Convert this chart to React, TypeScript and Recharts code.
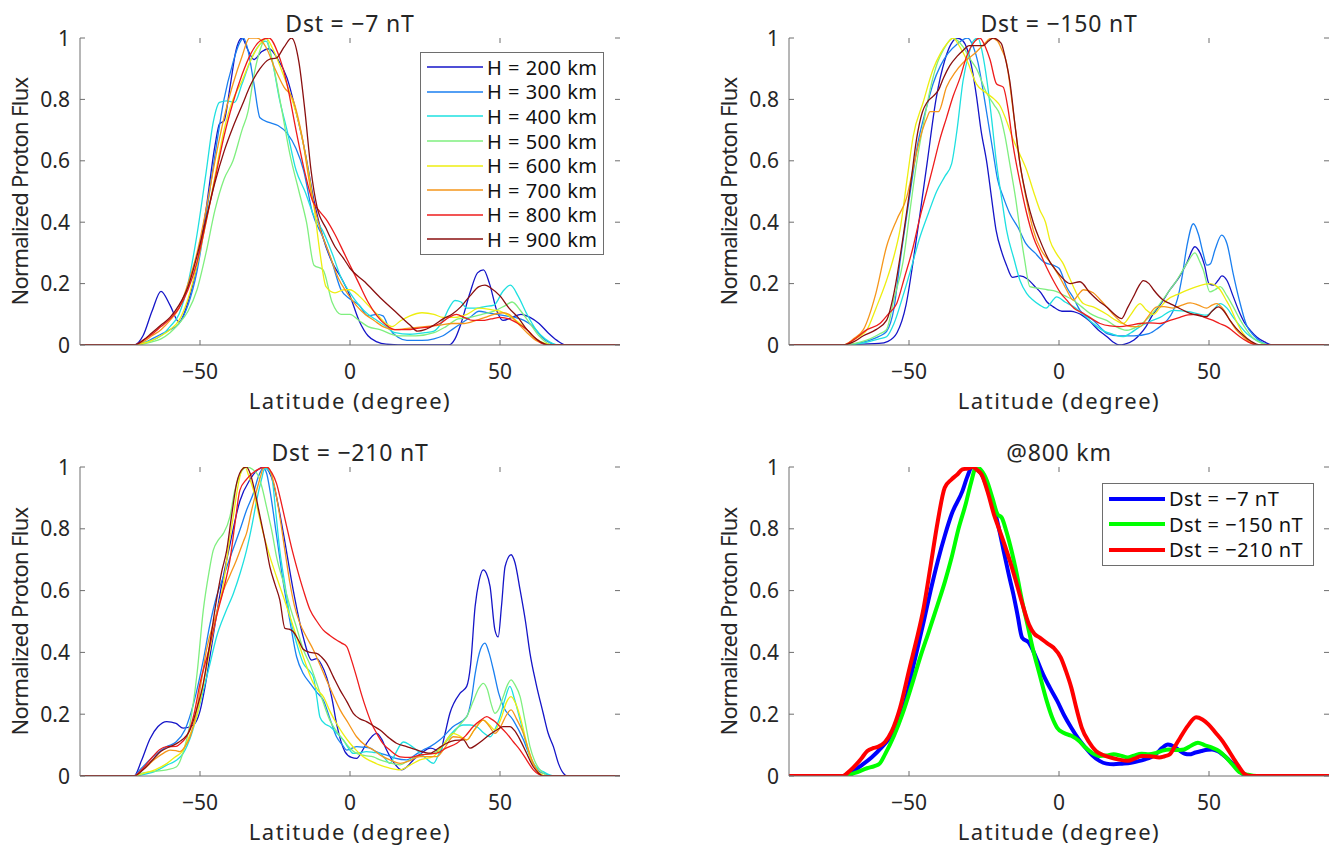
import React from "react";
import { LineChart, Line, XAxis, YAxis, Legend } from "recharts";

type Pt = [number, number];

const FONT = '"Noto Sans", "DejaVu Sans", sans-serif';
const INK = "#262626";
const BOX = "#6e6e6e";

const xTicks = [-50, 0, 50];
const yTicks = [0, 0.2, 0.4, 0.6, 0.8, 1];

const altitudeNames = ["H = 200 km", "H = 300 km", "H = 400 km", "H = 500 km", "H = 600 km", "H = 700 km", "H = 800 km", "H = 900 km"];
const altitudeColors = ["#1515c8", "#1a7ff0", "#1ee0e0", "#7fef7f", "#eeee10", "#f5961a", "#ee1c1c", "#8a0f0f"];
const stormNames = ["Dst = \u22127 nT", "Dst = \u2212150 nT", "Dst = \u2212210 nT"];
const stormColors = ["#0000ff", "#00ff00", "#ff0000"];
const panelTitles = ["Dst = \u22127 nT", "Dst = \u2212150 nT", "Dst = \u2212210 nT", "@800 km"];

// ---- Dst = -7 nT ----
const dst7_h200: Pt[] = [[-90,0],[-72,0],[-69,0.03],[-66,0.11],[-63,0.175],[-60,0.13],[-57,0.075],[-54,0.14],[-51,0.26],[-48,0.44],[-45,0.65],[-43.5,0.72],[-42,0.73],[-40,0.84],[-38,0.96],[-36,1.0],[-34,0.96],[-32,0.93],[-29.5,0.955],[-27,0.965],[-24,0.93],[-21,0.87],[-18,0.76],[-15,0.63],[-12,0.47],[-9,0.35],[-6,0.27],[-3,0.22],[0,0.16],[3,0.08],[6,0.03],[9,0.01],[12,0.003],[20,0],[33,0],[35,0.02],[37,0.07],[40,0.17],[42.5,0.235],[44.5,0.245],[46.5,0.2],[49,0.11],[51,0.08],[54,0.09],[57,0.1],[60,0.09],[63,0.07],[66,0.04],[69,0.015],[72,0],[90,0]];
const dst7_h300: Pt[] = [[-90,0],[-72,0],[-69,0.005],[-66,0.02],[-63,0.035],[-60,0.05],[-57,0.07],[-54,0.13],[-51,0.24],[-48,0.42],[-45,0.62],[-42,0.8],[-39,0.92],[-37,0.98],[-35.5,1.0],[-34,0.96],[-32,0.85],[-30,0.74],[-27,0.725],[-24,0.715],[-21,0.69],[-18,0.64],[-15.5,0.57],[-12.5,0.43],[-9,0.35],[-6,0.27],[-3,0.18],[0,0.15],[3,0.13],[6,0.095],[9,0.1],[11,0.095],[13,0.055],[16,0.025],[19,0.015],[24,0.015],[28,0.02],[31,0.03],[34,0.05],[37,0.07],[40,0.09],[43,0.11],[46,0.105],[49,0.1],[52,0.095],[55,0.09],[58,0.08],[61,0.06],[64,0.025],[67,0.005],[69,0],[90,0]];
const dst7_h400: Pt[] = [[-90,0],[-72,0],[-69,0.008],[-66,0.015],[-63,0.03],[-60,0.06],[-57,0.1],[-54,0.2],[-51,0.36],[-48,0.56],[-45.5,0.73],[-43.5,0.79],[-41,0.795],[-38.5,0.79],[-36,0.85],[-33,0.93],[-30,0.98],[-28,0.99],[-26,0.93],[-23.5,0.8],[-21,0.7],[-18,0.57],[-15,0.5],[-12,0.42],[-9,0.37],[-6,0.3],[-3,0.22],[0,0.17],[3,0.13],[6,0.1],[9,0.08],[12,0.06],[15,0.04],[20,0.035],[25,0.04],[28,0.045],[31,0.08],[33,0.12],[35,0.145],[37,0.14],[39,0.12],[42,0.12],[45,0.125],[48,0.13],[51,0.175],[53.5,0.195],[56,0.16],[59,0.1],[62,0.05],[65,0.02],[68,0.003],[70,0],[90,0]];
const dst7_h500: Pt[] = [[-90,0],[-72,0],[-69,0.003],[-66,0.01],[-63,0.02],[-60,0.04],[-57,0.07],[-54,0.11],[-51,0.18],[-48,0.3],[-45,0.44],[-42,0.54],[-39,0.6],[-36,0.7],[-34,0.76],[-32,0.88],[-30,0.96],[-28,1.0],[-26,0.93],[-23,0.78],[-20,0.62],[-17,0.5],[-14.5,0.4],[-12,0.26],[-9,0.245],[-6,0.14],[-3,0.1],[0,0.1],[3,0.08],[6,0.06],[10,0.05],[16,0.03],[22,0.03],[28,0.04],[32,0.06],[36,0.085],[40,0.09],[44,0.1],[48,0.11],[52,0.13],[54,0.14],[57,0.11],[60,0.07],[63,0.03],[66,0.005],[68,0],[90,0]];
const dst7_h600: Pt[] = [[-90,0],[-72,0],[-69,0.005],[-66,0.015],[-63,0.03],[-60,0.05],[-57,0.08],[-54,0.15],[-51,0.26],[-48,0.4],[-45,0.55],[-42,0.7],[-39,0.8],[-36,0.86],[-33,0.93],[-30,0.98],[-28,1.0],[-26,0.97],[-23,0.9],[-20,0.82],[-17,0.72],[-14.5,0.6],[-12,0.45],[-10,0.3],[-8,0.19],[-5,0.17],[-2,0.18],[0,0.18],[3,0.16],[6,0.13],[9,0.1],[12,0.07],[14,0.06],[17,0.08],[20,0.095],[24,0.105],[28,0.1],[31,0.09],[35,0.09],[39,0.1],[43,0.12],[47,0.115],[50,0.11],[53,0.095],[56,0.075],[59,0.05],[62,0.02],[65,0.005],[68,0],[90,0]];
const dst7_h700: Pt[] = [[-90,0],[-72,0],[-69,0.01],[-66,0.03],[-63,0.05],[-60,0.08],[-57,0.12],[-54,0.2],[-51,0.3],[-48,0.44],[-45,0.6],[-42,0.74],[-39,0.85],[-36,0.94],[-33.5,1.0],[-31,1.0],[-28,0.97],[-25,0.9],[-22,0.84],[-19,0.8],[-16,0.68],[-13,0.5],[-10,0.38],[-7,0.3],[-4,0.22],[-1,0.17],[2,0.13],[5,0.1],[8,0.08],[11,0.06],[15,0.05],[20,0.055],[25,0.06],[30,0.065],[34,0.07],[38,0.07],[42,0.08],[45,0.09],[48,0.1],[51,0.105],[53,0.1],[56,0.07],[59,0.04],[62,0.015],[65,0.003],[67,0],[90,0]];
const dst7_h800: Pt[] = [[-90,0],[-72,0],[-69,0.015],[-66,0.035],[-63,0.06],[-60,0.085],[-57,0.12],[-54,0.18],[-51,0.27],[-48,0.4],[-45,0.54],[-42,0.68],[-39,0.79],[-36,0.88],[-33,0.95],[-30,0.99],[-27,1.0],[-24,0.95],[-21,0.85],[-18,0.7],[-15,0.56],[-12.5,0.47],[-10.5,0.44],[-8,0.41],[-5,0.36],[-2,0.3],[0,0.26],[3,0.2],[6,0.14],[9,0.095],[12,0.065],[15,0.05],[19,0.05],[23,0.055],[27,0.06],[30,0.07],[33,0.09],[35.5,0.1],[38,0.09],[41,0.08],[44,0.08],[47,0.085],[50,0.09],[53,0.085],[56,0.07],[59,0.05],[62,0.02],[64,0.005],[66,0],[90,0]];
const dst7_h900: Pt[] = [[-90,0],[-72,0],[-69,0.015],[-66,0.04],[-63,0.065],[-60,0.09],[-57,0.13],[-54,0.19],[-51,0.29],[-48,0.41],[-45,0.53],[-42,0.63],[-39,0.71],[-36,0.78],[-33,0.85],[-30,0.9],[-27,0.93],[-24.5,0.935],[-22,0.97],[-19.5,1.0],[-17,0.92],[-15,0.76],[-13,0.57],[-11,0.45],[-8,0.38],[-5,0.32],[-2,0.28],[0,0.25],[5,0.205],[10,0.155],[15,0.11],[20,0.065],[22.5,0.045],[25,0.05],[28,0.065],[31,0.085],[34,0.1],[37,0.125],[40,0.16],[43,0.19],[45,0.195],[47,0.185],[50,0.16],[53,0.12],[56,0.09],[59,0.05],[62,0.02],[65,0.003],[67,0],[90,0]];

// ---- Dst = -150 nT ----
const dst150_h200: Pt[] = [[-90,0],[-72,0],[-66,0.003],[-60,0.005],[-57,0.012],[-54,0.04],[-51,0.13],[-48.5,0.28],[-46,0.45],[-44,0.59],[-41,0.8],[-38,0.93],[-36,0.98],[-34,1.0],[-32,0.99],[-30.5,0.96],[-29,0.9],[-27.5,0.81],[-26,0.7],[-24,0.59],[-22.5,0.48],[-21,0.375],[-19,0.3],[-17.5,0.26],[-15.5,0.22],[-13,0.225],[-10.5,0.215],[-8,0.19],[-6,0.17],[-4,0.14],[-2,0.125],[1,0.11],[4,0.11],[6,0.105],[8,0.095],[10,0.08],[13,0.05],[16,0.027],[18,0.01],[20,0],[22,0.003],[25,0.016],[27,0.035],[29,0.06],[31,0.095],[34,0.135],[37,0.18],[40,0.22],[42.5,0.265],[45.3,0.32],[47,0.3],[48.5,0.26],[50,0.2],[51.5,0.195],[53,0.21],[54.3,0.225],[56,0.21],[58,0.16],[60,0.11],[62,0.07],[64,0.045],[66,0.025],[68.5,0.01],[71,0],[90,0]];
const dst150_h300: Pt[] = [[-90,0],[-72,0],[-66,0.008],[-63,0.016],[-60,0.028],[-57.5,0.044],[-55,0.12],[-53,0.27],[-50,0.47],[-47,0.66],[-44,0.78],[-42,0.85],[-39.5,0.91],[-37,0.95],[-34,0.98],[-30.5,1.0],[-28.5,0.97],[-27,0.92],[-25.5,0.84],[-24,0.75],[-22,0.63],[-20.5,0.54],[-18.5,0.48],[-16.5,0.43],[-13.5,0.38],[-11,0.33],[-8,0.3],[-5,0.27],[-2,0.26],[0,0.25],[2.5,0.19],[5,0.15],[7,0.113],[9,0.095],[11.5,0.08],[14,0.055],[16,0.037],[20,0.03],[25,0.03],[30,0.037],[33,0.055],[36,0.08],[38,0.11],[39.5,0.15],[41,0.22],[42.6,0.32],[44.8,0.395],[46.5,0.36],[48,0.3],[49.3,0.26],[50.5,0.265],[52,0.31],[54.2,0.358],[56,0.33],[58,0.235],[60,0.15],[62.5,0.065],[65,0.03],[67.5,0.01],[70,0],[90,0]];
const dst150_h400: Pt[] = [[-90,0],[-72,0],[-66,0.005],[-63,0.012],[-60,0.02],[-57.5,0.027],[-55,0.07],[-52,0.16],[-49,0.26],[-46.4,0.35],[-43.5,0.43],[-40.8,0.5],[-38,0.55],[-35.8,0.59],[-34,0.7],[-32,0.86],[-30,0.95],[-28.6,0.99],[-27,1.0],[-25.5,0.95],[-24,0.86],[-22.5,0.74],[-20.8,0.59],[-19,0.47],[-17.5,0.375],[-15,0.28],[-13,0.21],[-10.8,0.168],[-8.5,0.145],[-6.4,0.13],[-4.3,0.12],[-2.5,0.14],[-0.8,0.157],[2,0.14],[4.8,0.125],[8,0.1],[11.4,0.07],[15,0.045],[18,0.035],[21.4,0.027],[24,0.04],[27,0.06],[30,0.075],[33.7,0.09],[38.1,0.113],[43.7,0.108],[47,0.1],[49.2,0.097],[51.5,0.115],[53.7,0.135],[56,0.12],[58.1,0.09],[60.5,0.06],[62.6,0.037],[65,0.02],[67.5,0.008],[70,0],[90,0]];
const dst150_h500: Pt[] = [[-90,0],[-72,0],[-66,0.01],[-63,0.02],[-60,0.035],[-57.5,0.05],[-55,0.15],[-52,0.27],[-49.5,0.45],[-47.5,0.59],[-45,0.73],[-43,0.83],[-40.5,0.92],[-38.6,0.96],[-35.3,1.0],[-31.9,0.97],[-29.5,0.93],[-27.5,0.9],[-24.1,0.82],[-21.5,0.78],[-19.7,0.75],[-18,0.68],[-16.4,0.59],[-14.5,0.48],[-13,0.375],[-11.5,0.28],[-9.7,0.19],[-7,0.185],[-4,0.18],[-1,0.175],[2,0.16],[4.8,0.146],[7.5,0.125],[10.3,0.103],[13,0.09],[15.9,0.08],[19,0.06],[22.6,0.048],[26,0.06],[30,0.09],[33.7,0.135],[37,0.18],[39.2,0.21],[42.6,0.265],[45.3,0.3],[47,0.27],[48.1,0.244],[50.3,0.173],[52,0.18],[53.7,0.19],[56,0.16],[58.1,0.124],[60.5,0.08],[62.6,0.048],[65,0.02],[67.5,0.006],[70,0],[90,0]];
const dst150_h600: Pt[] = [[-90,0],[-72,0],[-68,0.02],[-64,0.05],[-61,0.12],[-57.5,0.21],[-55,0.29],[-53,0.375],[-50.5,0.55],[-48.6,0.68],[-45.3,0.79],[-41.9,0.9],[-39.5,0.95],[-37.5,0.98],[-35.3,1.0],[-33,0.97],[-30.8,0.93],[-27.5,0.85],[-24.1,0.82],[-21.5,0.8],[-19.7,0.78],[-17.5,0.73],[-15.3,0.67],[-13,0.62],[-10.8,0.57],[-8.5,0.5],[-6.4,0.44],[-4.5,0.4],[-3,0.34],[-1,0.3],[1.4,0.265],[3,0.23],[4.8,0.19],[6.5,0.155],[8.1,0.135],[11.4,0.124],[15.9,0.1],[19,0.08],[21.4,0.07],[24,0.1],[27,0.135],[29,0.115],[31.5,0.1],[33.5,0.12],[35.9,0.146],[40.3,0.168],[45.9,0.19],[50.3,0.2],[52,0.195],[53.7,0.18],[55.5,0.15],[57,0.124],[59,0.08],[61.4,0.037],[64,0.01],[67,0],[90,0]];
const dst150_h700: Pt[] = [[-90,0],[-72,0],[-68.5,0.02],[-65.2,0.05],[-61,0.17],[-57.5,0.32],[-54,0.41],[-50.8,0.48],[-48.5,0.58],[-46.4,0.67],[-44,0.74],[-43,0.76],[-40.2,0.76],[-37.5,0.84],[-34.5,0.89],[-31.9,0.92],[-28,0.95],[-25,0.98],[-22.5,1.0],[-20.5,0.99],[-19,0.96],[-17.5,0.92],[-15.5,0.78],[-13,0.59],[-10.8,0.47],[-8.6,0.375],[-6,0.31],[-3,0.27],[0.3,0.22],[2.5,0.18],[4.8,0.146],[6.5,0.165],[8.1,0.18],[11.4,0.17],[13.5,0.15],[15.9,0.124],[18.5,0.095],[21.4,0.07],[24,0.06],[27,0.06],[29.5,0.09],[32.6,0.124],[35,0.125],[38.1,0.12],[41,0.13],[43.7,0.137],[46.5,0.13],[49.2,0.12],[51,0.13],[52.6,0.135],[54.5,0.12],[57,0.08],[59,0.05],[61.4,0.027],[63.5,0.01],[66,0],[90,0]];
const dst150_h800: Pt[] = [[-90,0],[-72,0],[-68,0.02],[-64,0.05],[-59.7,0.07],[-57,0.1],[-54.1,0.135],[-51.5,0.22],[-48.6,0.32],[-46.5,0.41],[-44.1,0.5],[-42,0.58],[-39.7,0.67],[-37.5,0.74],[-35.3,0.81],[-33,0.87],[-30.8,0.94],[-28,0.99],[-26.4,1.0],[-24.5,0.97],[-23,0.93],[-20.8,0.85],[-18.6,0.84],[-17,0.77],[-15.3,0.65],[-13,0.53],[-10.8,0.43],[-8.5,0.35],[-6.3,0.3],[-4,0.25],[-1.9,0.21],[0.5,0.17],[2.6,0.146],[5,0.12],[8.1,0.103],[11,0.085],[13.7,0.07],[17,0.062],[20.3,0.06],[24,0.065],[27,0.07],[30,0.072],[33.7,0.07],[37,0.08],[40.3,0.09],[43,0.098],[45.9,0.1],[48.5,0.09],[51.4,0.08],[53.5,0.07],[55.9,0.06],[58,0.045],[60.3,0.027],[63,0.01],[66,0],[90,0]];
const dst150_h900: Pt[] = [[-90,0],[-72,0],[-68.5,0.01],[-65.2,0.03],[-61,0.05],[-57.5,0.08],[-55,0.17],[-52,0.35],[-49.5,0.52],[-47.5,0.67],[-45.5,0.76],[-44,0.79],[-42,0.81],[-40.2,0.83],[-38.5,0.87],[-36.4,0.91],[-34,0.94],[-31.9,0.96],[-30,0.975],[-27.5,0.975],[-25.3,0.975],[-23.5,0.99],[-21.9,1.0],[-20,0.99],[-19.1,0.98],[-17.8,0.93],[-16.4,0.86],[-14.7,0.72],[-13,0.59],[-10.8,0.48],[-8.6,0.4],[-6.3,0.34],[-3,0.27],[-1.9,0.255],[0.5,0.225],[3.7,0.2],[7,0.206],[10.3,0.17],[13,0.145],[15.9,0.124],[18.5,0.1],[20.9,0.086],[22.8,0.12],[24.8,0.157],[26.5,0.19],[28.1,0.21],[30,0.2],[31.5,0.18],[34.8,0.146],[37,0.135],[39.2,0.124],[43.7,0.103],[47,0.095],[49.2,0.092],[51,0.11],[53.1,0.124],[55,0.11],[57,0.08],[59,0.055],[61.4,0.032],[64,0.012],[67,0],[90,0]];

// ---- Dst = -210 nT ----
const dst210_h200: Pt[] = [[-90,0],[-72,0],[-69.5,0.05],[-66.7,0.12],[-64,0.16],[-61.1,0.176],[-58,0.17],[-55.6,0.155],[-52.2,0.165],[-50,0.21],[-48.3,0.29],[-46.7,0.386],[-45,0.49],[-43.3,0.59],[-40,0.75],[-36.7,0.89],[-33.3,0.96],[-30,0.996],[-28.4,1.0],[-27,0.985],[-25.6,0.95],[-24,0.88],[-22.2,0.785],[-18.9,0.6],[-15.6,0.45],[-12.8,0.375],[-11.1,0.38],[-9.5,0.36],[-7.8,0.32],[-6,0.25],[-4.5,0.17],[-1.7,0.079],[0.5,0.06],[2.2,0.057],[4,0.08],[5.5,0.105],[8.9,0.138],[10.5,0.12],[12.2,0.084],[14.5,0.045],[17.2,0.02],[19,0.03],[21.1,0.052],[24,0.075],[26.7,0.09],[28.5,0.085],[30,0.074],[31.5,0.13],[33.3,0.203],[36.7,0.268],[38.9,0.29],[40.2,0.36],[41.7,0.548],[43,0.63],[44.4,0.667],[45.5,0.655],[46.7,0.613],[48.3,0.473],[49.4,0.45],[50.5,0.55],[51.7,0.678],[53.7,0.716],[55,0.69],[56.7,0.602],[58.5,0.5],[60,0.397],[62,0.3],[64.4,0.203],[66,0.14],[67.8,0.095],[69.5,0.04],[71.1,0.009],[72.5,0],[90,0]];
const dst210_h300: Pt[] = [[-90,0],[-72,0],[-70,0.02],[-67,0.05],[-64,0.075],[-61.1,0.095],[-58,0.11],[-55,0.15],[-52,0.24],[-49,0.37],[-46.7,0.49],[-44.5,0.58],[-42.2,0.645],[-39.5,0.72],[-36.7,0.796],[-34.5,0.86],[-32.2,0.915],[-30.5,0.97],[-28.9,0.996],[-27.8,0.98],[-26.7,0.925],[-24.5,0.78],[-22.2,0.623],[-20,0.5],[-17.8,0.386],[-15.5,0.33],[-13.3,0.3],[-11,0.27],[-8.9,0.246],[-6.5,0.18],[-4.5,0.127],[-2.5,0.1],[-1.1,0.084],[2.2,0.095],[4.5,0.093],[6.7,0.09],[8.5,0.08],[10,0.074],[13,0.065],[15,0.058],[18.9,0.052],[22,0.07],[24.5,0.085],[26.7,0.095],[30,0.117],[34.4,0.16],[38.9,0.192],[40.5,0.25],[41.7,0.33],[43.5,0.41],[45,0.43],[46.3,0.4],[47.8,0.343],[49.5,0.27],[51.1,0.225],[54.4,0.181],[57.8,0.117],[59.5,0.075],[61.1,0.041],[63,0.015],[64.4,0.009],[67.8,0],[90,0]];
const dst210_h400: Pt[] = [[-90,0],[-72,0],[-70,0.003],[-65,0.015],[-61.1,0.035],[-58,0.05],[-55.6,0.073],[-53,0.13],[-50,0.235],[-47,0.35],[-44.5,0.45],[-41.5,0.53],[-38.9,0.59],[-36.5,0.66],[-34.5,0.73],[-32.5,0.82],[-31.1,0.893],[-29.5,0.96],[-28.4,0.996],[-27.2,0.99],[-26.1,0.97],[-24.8,0.86],[-23.4,0.73],[-21.7,0.62],[-20,0.516],[-17.8,0.43],[-15.6,0.365],[-13.5,0.34],[-12.2,0.32],[-11,0.25],[-10,0.19],[-8.5,0.17],[-6.7,0.16],[-4.5,0.14],[-2.2,0.116],[-0.5,0.09],[1.1,0.073],[3,0.075],[5.5,0.079],[8,0.076],[10,0.073],[11.5,0.058],[13.3,0.041],[15,0.07],[17.8,0.11],[20,0.1],[22.2,0.084],[25,0.06],[27.8,0.041],[30,0.08],[32.2,0.117],[35,0.15],[37.8,0.165],[40,0.165],[42.2,0.16],[44.5,0.14],[46.7,0.127],[48.3,0.15],[50,0.192],[51.7,0.25],[53.3,0.29],[54.8,0.25],[56.7,0.181],[58.3,0.12],[60,0.063],[62,0.03],[64.4,0.014],[66.5,0.004],[68.9,0],[90,0]];
const dst210_h500: Pt[] = [[-90,0],[-72,0],[-70,0.008],[-65,0.015],[-61.1,0.02],[-57.8,0.03],[-55.5,0.08],[-53.3,0.17],[-51,0.33],[-48.9,0.537],[-47,0.66],[-45.6,0.73],[-43.8,0.765],[-42.2,0.785],[-40,0.84],[-38.5,0.92],[-37.3,0.96],[-34.5,1.0],[-31.1,0.98],[-29.5,0.94],[-27.8,0.87],[-26,0.79],[-24.5,0.71],[-22,0.62],[-20,0.548],[-17.8,0.48],[-15.6,0.41],[-13.3,0.36],[-11.1,0.3],[-9,0.24],[-6.7,0.18],[-4.5,0.145],[-2.2,0.116],[0,0.09],[2.2,0.073],[5,0.066],[7.8,0.062],[10,0.052],[13,0.043],[16.7,0.036],[19.5,0.05],[22.2,0.063],[25,0.07],[27.8,0.074],[31,0.1],[34.4,0.138],[37,0.17],[38.9,0.192],[41,0.24],[43,0.285],[44.4,0.3],[45.8,0.28],[47,0.235],[48.3,0.203],[49.5,0.215],[51.1,0.257],[52.5,0.295],[53.7,0.311],[55,0.295],[56.7,0.257],[58.3,0.18],[60,0.095],[61.5,0.05],[63.3,0.02],[65,0.005],[66.7,0],[90,0]];
const dst210_h600: Pt[] = [[-90,0],[-72,0],[-69,0.008],[-65,0.02],[-61.1,0.04],[-58.5,0.06],[-55.6,0.084],[-53.5,0.13],[-51.1,0.192],[-49,0.29],[-46.7,0.41],[-44.5,0.52],[-42.2,0.623],[-40.5,0.74],[-38.9,0.84],[-37.5,0.93],[-36.1,0.99],[-35,1.0],[-33.7,0.97],[-32.2,0.925],[-30.5,0.85],[-28.9,0.785],[-26.7,0.71],[-24.5,0.645],[-22.2,0.58],[-20,0.516],[-17.8,0.45],[-15.6,0.386],[-13.9,0.34],[-12.2,0.3],[-10.5,0.275],[-8.9,0.257],[-6.7,0.21],[-4.5,0.17],[-2.2,0.135],[0,0.106],[2.2,0.082],[4.4,0.062],[7,0.048],[10,0.035],[13,0.026],[16.7,0.02],[20,0.035],[23.3,0.052],[27.8,0.063],[31,0.1],[34.4,0.138],[36.5,0.13],[38.9,0.117],[41.5,0.15],[44.4,0.181],[46.5,0.165],[48.3,0.149],[50.5,0.19],[52,0.235],[53.7,0.257],[55.2,0.235],[56.7,0.192],[58.3,0.13],[60,0.063],[61.7,0.03],[63.3,0.009],[65.5,0],[90,0]];
const dst210_h700: Pt[] = [[-90,0],[-72,0],[-69,0.02],[-65,0.055],[-62,0.075],[-60,0.084],[-58,0.082],[-56.7,0.079],[-55,0.095],[-53.3,0.127],[-51,0.22],[-49.5,0.31],[-47.8,0.41],[-45,0.51],[-42.2,0.6],[-40,0.65],[-37.8,0.7],[-35.5,0.76],[-34.5,0.785],[-32.8,0.86],[-31.1,0.925],[-29.8,0.97],[-28.9,0.996],[-27.5,1.0],[-26.7,0.99],[-25,0.93],[-23.4,0.84],[-21.7,0.73],[-20,0.623],[-18.5,0.55],[-16.7,0.494],[-14.5,0.45],[-12.2,0.408],[-10,0.36],[-7.8,0.31],[-5.5,0.26],[-3.3,0.214],[-0.5,0.17],[2.2,0.127],[5,0.1],[7.8,0.084],[10.5,0.065],[13.3,0.052],[16.7,0.041],[20,0.05],[23.3,0.063],[28.9,0.063],[31.5,0.09],[34.4,0.127],[36.5,0.125],[38.9,0.117],[41.5,0.15],[44.4,0.181],[46.5,0.16],[48.3,0.138],[50.5,0.165],[52,0.195],[53.7,0.214],[55.5,0.185],[57.8,0.138],[59.5,0.085],[61.1,0.041],[62.8,0.012],[64.4,0],[90,0]];
const dst210_h800: Pt[] = [[-90,0],[-72,0],[-69,0.025],[-66,0.06],[-63.5,0.085],[-61.1,0.095],[-58,0.096],[-56,0.11],[-54.5,0.127],[-52,0.2],[-50,0.3],[-47,0.41],[-44.5,0.516],[-42,0.61],[-40,0.7],[-38.3,0.82],[-36.7,0.925],[-34.5,0.96],[-31.1,0.99],[-27.8,1.0],[-26,0.98],[-24.5,0.947],[-22.8,0.88],[-21.1,0.807],[-19.5,0.74],[-17.8,0.677],[-15.5,0.6],[-13.3,0.537],[-11,0.5],[-8.9,0.472],[-6.7,0.455],[-4.5,0.44],[-2.8,0.43],[-1.1,0.419],[0.5,0.375],[2.2,0.32],[3.8,0.265],[5.5,0.214],[7.2,0.17],[8.9,0.138],[11,0.105],[13.3,0.084],[16.7,0.062],[20,0.06],[23.3,0.068],[28.9,0.074],[32,0.09],[35.6,0.106],[38.5,0.13],[41.1,0.16],[43.5,0.18],[45.6,0.192],[47,0.185],[48.3,0.176],[50,0.16],[52.2,0.138],[54.5,0.11],[56.7,0.084],[59,0.05],[61.1,0.02],[63,0.005],[64.5,0],[90,0]];
const dst210_h900: Pt[] = [[-90,0],[-72,0],[-69,0.02],[-66,0.05],[-63,0.08],[-60,0.095],[-57,0.11],[-53.3,0.15],[-51,0.22],[-48.9,0.3],[-46.7,0.43],[-44.5,0.57],[-42.8,0.66],[-41.1,0.73],[-39.5,0.84],[-37.8,0.947],[-35.6,0.996],[-34.5,1.0],[-33.3,0.98],[-31.7,0.92],[-30,0.84],[-28.3,0.76],[-26.7,0.677],[-25,0.62],[-23.4,0.57],[-21.7,0.478],[-20.3,0.475],[-18.9,0.467],[-17.2,0.44],[-15.6,0.41],[-13.3,0.4],[-11.1,0.397],[-9.5,0.385],[-7.8,0.365],[-5.5,0.32],[-3.3,0.278],[-1,0.24],[1.1,0.203],[3.3,0.185],[5.5,0.176],[7.8,0.162],[10,0.149],[12.8,0.125],[15.5,0.106],[18.9,0.095],[22,0.085],[26.7,0.074],[29.5,0.09],[32.2,0.106],[35,0.115],[37.8,0.117],[40,0.09],[42,0.1],[44.4,0.117],[46.7,0.135],[48.9,0.149],[51,0.16],[53.3,0.16],[55,0.145],[56.7,0.117],[58.8,0.075],[61.1,0.03],[62.8,0.01],[64.5,0],[90,0]];

// ---- @800 km ----
const at800_dst7: Pt[] = [[-90,0],[-72,0],[-69,0.012],[-66.2,0.032],[-62.5,0.06],[-59.2,0.092],[-56,0.13],[-53.3,0.178],[-51,0.25],[-48.7,0.35],[-45.1,0.5],[-42.8,0.6],[-40.4,0.696],[-38,0.78],[-35.8,0.847],[-32.2,0.922],[-30.5,0.97],[-29,1.0],[-27.5,0.995],[-25.8,0.976],[-23.8,0.93],[-21.7,0.868],[-20,0.8],[-18.2,0.717],[-16.7,0.65],[-15.2,0.588],[-13.8,0.52],[-12.3,0.448],[-10,0.431],[-7.5,0.38],[-5.3,0.329],[-3,0.285],[-0.6,0.243],[1.8,0.195],[4.1,0.156],[6.5,0.12],[8.8,0.092],[11,0.068],[13.5,0.049],[15.8,0.04],[18.2,0.038],[21,0.04],[24,0.043],[26.5,0.048],[28.7,0.054],[30.5,0.06],[32.2,0.07],[34.3,0.09],[36.3,0.102],[38.4,0.095],[40.4,0.081],[42,0.072],[43.4,0.07],[45.5,0.076],[47.5,0.081],[49.5,0.085],[51,0.086],[53,0.08],[54.5,0.07],[56.3,0.055],[58,0.038],[59.8,0.02],[61.5,0.005],[64,0],[90,0]];
const at800_dst150: Pt[] = [[-90,0],[-72,0],[-68,0.01],[-64,0.025],[-61.5,0.032],[-59.8,0.04],[-58,0.07],[-55,0.13],[-52.2,0.2],[-49.2,0.29],[-46.3,0.383],[-43.3,0.47],[-40.4,0.556],[-38,0.63],[-35.8,0.707],[-33.5,0.8],[-31.1,0.88],[-29.3,0.95],[-27.6,1.0],[-26,0.99],[-24,0.955],[-22.2,0.9],[-20.5,0.847],[-19.1,0.836],[-17.5,0.79],[-15.8,0.728],[-14,0.65],[-12.3,0.566],[-10.5,0.49],[-8.8,0.415],[-6.5,0.33],[-4.1,0.243],[-2.3,0.19],[-0.6,0.156],[1.5,0.14],[4.1,0.13],[6.5,0.115],[8.8,0.092],[11,0.075],[13.5,0.065],[15.8,0.066],[18.2,0.07],[20.5,0.066],[22.9,0.06],[25,0.066],[27.5,0.072],[30,0.07],[32.2,0.074],[34.5,0.082],[36.9,0.086],[39,0.084],[41.6,0.086],[44,0.098],[46.3,0.108],[48.5,0.1],[51,0.092],[53.5,0.08],[55.7,0.06],[58,0.035],[60.4,0.011],[63,0.004],[66,0],[90,0]];
const at800_dst210: Pt[] = [[-90,0],[-72,0],[-70.5,0.01],[-68.6,0.027],[-66,0.055],[-63.9,0.081],[-62,0.09],[-60.4,0.094],[-58,0.11],[-55.7,0.146],[-53,0.22],[-49.8,0.35],[-47.5,0.44],[-45.1,0.545],[-42.8,0.68],[-40.4,0.825],[-38.1,0.933],[-35.8,0.96],[-34,0.975],[-32.2,0.992],[-30.5,0.995],[-28.7,1.0],[-27.3,0.99],[-25.8,0.976],[-23.8,0.92],[-21.7,0.847],[-20,0.8],[-18.2,0.75],[-16.5,0.7],[-14.7,0.642],[-12.3,0.56],[-10,0.49],[-8.2,0.46],[-6.4,0.448],[-4,0.43],[-1.8,0.415],[0.6,0.383],[2.3,0.34],[4.1,0.286],[5.9,0.215],[7.6,0.156],[10,0.11],[12.3,0.081],[14.7,0.068],[17,0.06],[20,0.053],[22.9,0.049],[25.2,0.056],[27.5,0.065],[30.5,0.064],[33.4,0.06],[35.2,0.064],[36.9,0.07],[38.6,0.095],[40.4,0.124],[43,0.163],[45.7,0.19],[47.8,0.183],[49.8,0.167],[52.2,0.14],[54.5,0.113],[56.3,0.086],[58,0.06],[60,0.03],[62.1,0.005],[64,0],[90,0]];

const dst7 = [dst7_h200, dst7_h300, dst7_h400, dst7_h500, dst7_h600, dst7_h700, dst7_h800, dst7_h900];
const dst150 = [dst150_h200, dst150_h300, dst150_h400, dst150_h500, dst150_h600, dst150_h700, dst150_h800, dst150_h900];
const dst210 = [dst210_h200, dst210_h300, dst210_h400, dst210_h500, dst210_h600, dst210_h700, dst210_h800, dst210_h900];
const at800 = [at800_dst7, at800_dst150, at800_dst210];

const toRows = (pts: Pt[]) => pts.map(([lat, flux]) => ({ lat, flux }));
const fmtX = (v: number) => (v < 0 ? `\u2212${Math.abs(v)}` : `${v}`);

const PLOT_LEFT = 80;
const PLOT_RIGHT = 620;
const TICK = 5;

type PanelProps = {
  left: number;
  top: number;
  width: number;
  height: number;
  plotTop: number;
  plotBottom: number;
  title: string;
  series: Pt[][];
  names: string[];
  colors: string[];
  lineWidth: number;
  legend?: { left: number; top: number; width: number; row: number; sample: number };
};

function Panel(p: PanelProps) {
  const midY = (p.plotTop + p.plotBottom) / 2;
  const midX = (PLOT_LEFT + PLOT_RIGHT) / 2;

  const xTick = (props: any) => {
    const { x, payload } = props;
    return (
      <g>
        <line x1={x} x2={x} y1={p.plotBottom} y2={p.plotBottom - TICK} stroke={BOX} />
        <line x1={x} x2={x} y1={p.plotTop} y2={p.plotTop + TICK} stroke={BOX} />
        <text x={x} y={p.plotBottom + 34} textAnchor="middle" fontSize={21} fill={INK} fontFamily={FONT}>
          {fmtX(payload.value)}
        </text>
      </g>
    );
  };
  const yTick = (props: any) => {
    const { y, payload } = props;
    return (
      <g>
        <line x1={PLOT_LEFT} x2={PLOT_LEFT + TICK} y1={y} y2={y} stroke={BOX} />
        <line x1={PLOT_RIGHT} x2={PLOT_RIGHT - TICK} y1={y} y2={y} stroke={BOX} />
        <text x={PLOT_LEFT - 10} y={y} dy="0.36em" textAnchor="end" fontSize={21} fill={INK} fontFamily={FONT}>
          {String(payload.value)}
        </text>
      </g>
    );
  };

  // y label plus the panel title (drawn through the left axis label slot)
  const sideLabels = () => (
    <g>
      <text
        x={28}
        y={midY}
        transform={`rotate(-90, 28, ${midY})`}
        textAnchor="middle"
        fontSize={22}
        letterSpacing={-0.7}
        fill={INK}
        fontFamily={FONT}
      >
        Normalized Proton Flux
      </text>
      <text x={midX} y={p.plotTop - 6} textAnchor="middle" fontSize={23} letterSpacing={0.8} fill={INK} fontFamily={FONT}>
        {p.title}
      </text>
    </g>
  );

  const legendContent = (props: any) => {
    if (!p.legend) return null;
    const lg = p.legend;
    const items = [...(props.payload || [])].sort(
      (a: any, b: any) => p.names.indexOf(a.value) - p.names.indexOf(b.value)
    );
    return (
      <div
        style={{
          width: lg.width,
          boxSizing: "border-box",
          border: `1px solid ${BOX}`,
          background: "#fff",
          padding: "2px 0",
          fontFamily: FONT,
          fontSize: 20,
          letterSpacing: 0.5,
          color: "#111",
        }}
      >
        {items.map((e: any) => (
          <div key={e.value} style={{ display: "flex", alignItems: "center", height: lg.row, whiteSpace: "nowrap" }}>
            <svg width={66} height={10} style={{ flex: "none" }}>
              <line x1={6} x2={62} y1={5} y2={5} stroke={e.color} strokeWidth={lg.sample} />
            </svg>
            <span>{e.value}</span>
          </div>
        ))}
      </div>
    );
  };

  return (
    <div style={{ position: "absolute", left: p.left, top: p.top, width: p.width, height: p.height }}>
      <LineChart
        width={p.width}
        height={p.height}
        margin={{ top: p.plotTop, right: p.width - PLOT_RIGHT, bottom: 0, left: 0 }}
      >
        <XAxis
          type="number"
          dataKey="lat"
          domain={[-90, 90]}
          allowDataOverflow
          ticks={xTicks}
          interval={0}
          tick={xTick}
          tickLine={false}
          axisLine={{ stroke: BOX }}
          height={p.height - p.plotBottom}
          label={() => (
            <text
              x={midX}
              y={p.plotBottom + 64}
              textAnchor="middle"
              fontSize={22}
              letterSpacing={1.5}
              fill={INK}
              fontFamily={FONT}
            >
              Latitude (degree)
            </text>
          )}
        />
        <XAxis
          xAxisId="top"
          orientation="top"
          type="number"
          dataKey="lat"
          domain={[-90, 90]}
          allowDataOverflow
          height={0}
          tick={false}
          tickLine={false}
          axisLine={{ stroke: BOX }}
        />
        <YAxis
          type="number"
          domain={[0, 1]}
          allowDataOverflow
          ticks={yTicks}
          interval={0}
          tick={yTick}
          tickLine={false}
          axisLine={{ stroke: BOX }}
          width={PLOT_LEFT}
          label={sideLabels}
        />
        <YAxis
          yAxisId="right"
          orientation="right"
          type="number"
          domain={[0, 1]}
          allowDataOverflow
          width={0}
          tick={false}
          tickLine={false}
          axisLine={{ stroke: BOX }}
        />
        {p.series.map((s, i) => (
          <Line
            key={p.names[i]}
            data={toRows(s)}
            dataKey="flux"
            name={p.names[i]}
            type="monotone"
            stroke={p.colors[i]}
            strokeWidth={p.lineWidth}
            dot={false}
            activeDot={false}
            isAnimationActive={false}
          />
        ))}
        {p.legend && (
          <Legend
            layout="vertical"
            align="center"
            verticalAlign="middle"
            wrapperStyle={{ left: p.legend.left, top: p.legend.top, width: p.legend.width }}
            content={legendContent}
          />
        )}
      </LineChart>
    </div>
  );
}

export default function App() {
  return (
    <div style={{ position: "absolute", left: 0, top: 0, width: 1331, height: 845, background: "#fff" }}>
      <Panel
        left={0}
        top={0}
        width={665}
        height={422}
        plotTop={38}
        plotBottom={345}
        title={panelTitles[0]}
        series={dst7}
        names={altitudeNames}
        colors={altitudeColors}
        lineWidth={1.3}
        legend={{ left: 420, top: 52, width: 184, row: 24.6, sample: 1.3 }}
      />
      <Panel
        left={709}
        top={0}
        width={622}
        height={422}
        plotTop={38}
        plotBottom={345}
        title={panelTitles[1]}
        series={dst150}
        names={altitudeNames}
        colors={altitudeColors}
        lineWidth={1.3}
      />
      <Panel
        left={0}
        top={430}
        width={665}
        height={415}
        plotTop={37}
        plotBottom={346}
        title={panelTitles[2]}
        series={dst210}
        names={altitudeNames}
        colors={altitudeColors}
        lineWidth={1.3}
      />
      <Panel
        left={709}
        top={430}
        width={622}
        height={415}
        plotTop={37}
        plotBottom={346}
        title={panelTitles[3]}
        series={at800}
        names={stormNames}
        colors={stormColors}
        lineWidth={4}
        legend={{ left: 393, top: 53, width: 212, row: 25.5, sample: 4 }}
      />
    </div>
  );
}
